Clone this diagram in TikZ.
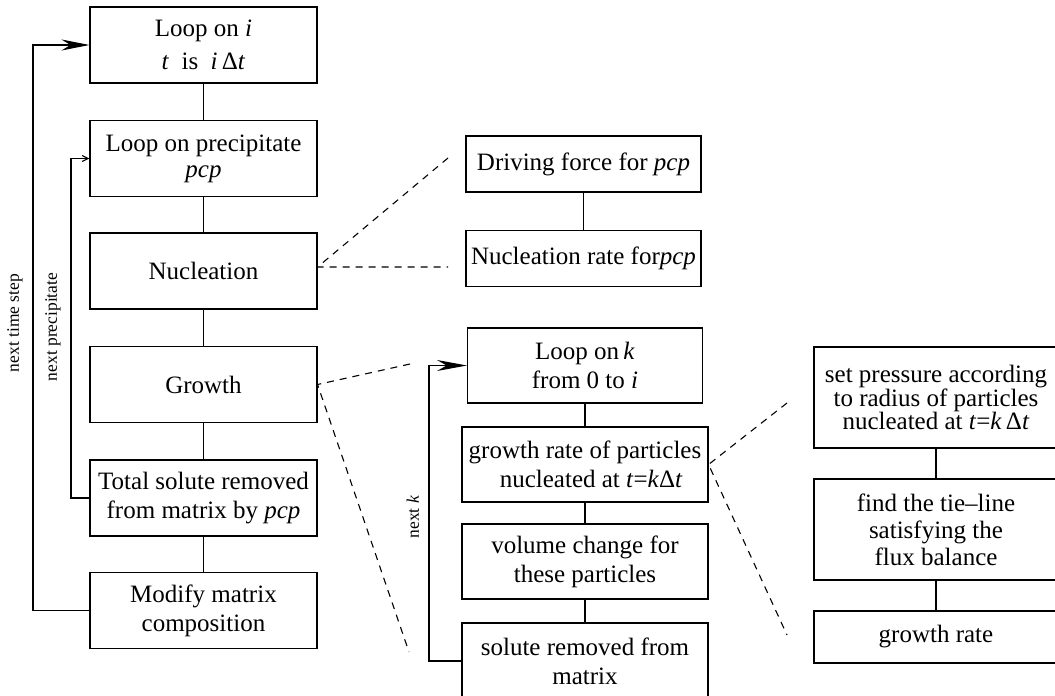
\documentclass[tikz,border=0pt]{standalone}
\usepackage{fontspec}
\setmainfont{Liberation Serif}
\usetikzlibrary{arrows.meta,calc}
\begin{document}
\begin{tikzpicture}[x=1pt,y=-1pt,
  box/.style={draw,line width=1.1pt,inner sep=0pt,align=center,font=\fontsize{25}{29}\selectfont},
  link/.style={line width=1.1pt},
  dashlink/.style={line width=1.1pt,dash pattern=on 7pt off 6pt},
  lbl/.style={font=\fontsize{17.5}{20}\selectfont,rotate=90,inner sep=0pt}]
\clip (0,0) rectangle (1055,696);
\useasboundingbox (0,0) rectangle (1055,696);

% left column
\node[box,minimum width=227pt,minimum height=76pt] (b1) at (203.5,45)
  {Loop on \textit{i}\\[4pt]\textit{t}\enspace is\enspace\textit{i}\,Δ\textit{t}};
\node[box,minimum width=227pt,minimum height=76pt] (b2) at (203.5,158.5)
  {Loop on precipitate\\[-3pt]\textit{pcp}};
\node[box,minimum width=227pt,minimum height=76pt] (b3) at (203.5,271) {Nucleation};
\node[box,minimum width=227pt,minimum height=76pt] (b4) at (203.5,384.5) {Growth};
\node[box,minimum width=227pt,minimum height=76pt] (b5) at (203.5,498)
  {Total solute removed\\from matrix by \textit{pcp}};
\node[box,minimum width=227pt,minimum height=76pt] (b6) at (203.5,610.5)
  {Modify matrix\\composition};

\draw[link] (b1) -- (b2);
\draw[link] (b2) -- (b3);
\draw[link] (b3) -- (b4);
\draw[link] (b4) -- (b5);
\draw[link] (b5) -- (b6);

\coordinate (xo) at (33,0);
\coordinate (xi) at (71,0);
\draw[link,-{Stealth[length=28pt,width=11pt]}] (b6.west) -- (b6.west -| xo) |- (b1.west);
\draw[link,-{Straight Barb[length=6pt,width=6pt]}] (b5.west) -- (b5.west -| xi) |- (b2.west);
\node[lbl] (l1) at (15,323) {next time step};
\node[lbl] (l2) at (53,327) {next precipitate};

% nucleation detail
\node[box,minimum width=235pt,minimum height=56pt] (df) at (583.5,164)
  {Driving force for \textit{pcp}};
\node[box,minimum width=235pt,minimum height=56pt] (nr) at (583.5,258.5)
  {Nucleation rate for\textit{pcp}};
\draw[link] (df) -- (nr);
\coordinate (n1) at (448,158);
\coordinate (n2) at (448,267);
\draw[dashlink] (n1) -- ($(b3.east)+(0,-4)$) -- (n2);

% growth detail
\node[box,minimum width=235pt,minimum height=75pt] (lk) at (585,365.5)
  {Loop on\,\textit{k}\\from 0 to \textit{i}};
\node[box,minimum width=246pt,minimum height=75pt] (gr) at (585,464.5)
  {growth rate of particles\\\enspace nucleated at \textit{t}=\textit{k}Δ\textit{t}};
\node[box,minimum width=246pt,minimum height=75pt] (vc) at (585,561.5)
  {volume change for\\these particles};
\node[box,minimum width=246pt,minimum height=76pt] (sr) at (585,661)
  {solute removed from\\matrix};
\draw[link] (lk) -- (gr);
\draw[link] (gr) -- (vc);
\draw[link] (vc) -- (sr);

\coordinate (xk) at (429,0);
\draw[link,-{Stealth[length=30pt,width=11pt]}] (sr.west) -- (sr.west -| xk) |- (lk.west);
\node[lbl] (l3) at (413,517) {next \textit{k}};

\coordinate (g1) at (410,364);
\coordinate (g2) at (409,652);
\draw[dashlink] (g1) -- (b4.east) -- (g2);

% growth rate detail
\node[box,minimum width=244pt,minimum height=101pt,font=\fontsize{25}{22}\selectfont] (sp) at (936,397.5)
  {set pressure according\\to radius of particles\\nucleated at \textit{t}=\textit{k}\,Δ\textit{t}};
\node[box,minimum width=244pt,minimum height=101pt,font=\fontsize{25}{27}\selectfont] (tl) at (936,529.5)
  {find the tie–line\\satisfying the\\flux balance};
\node[box,minimum width=244pt,minimum height=52pt] (ga) at (936,637) {growth rate};
\draw[link] (sp) -- (tl);
\draw[link] (tl) -- (ga);

\coordinate (r1) at (787,403);
\coordinate (r2) at (787,635);
\draw[dashlink] (r1) -- (gr.east) -- (r2);
\end{tikzpicture}
\end{document}
